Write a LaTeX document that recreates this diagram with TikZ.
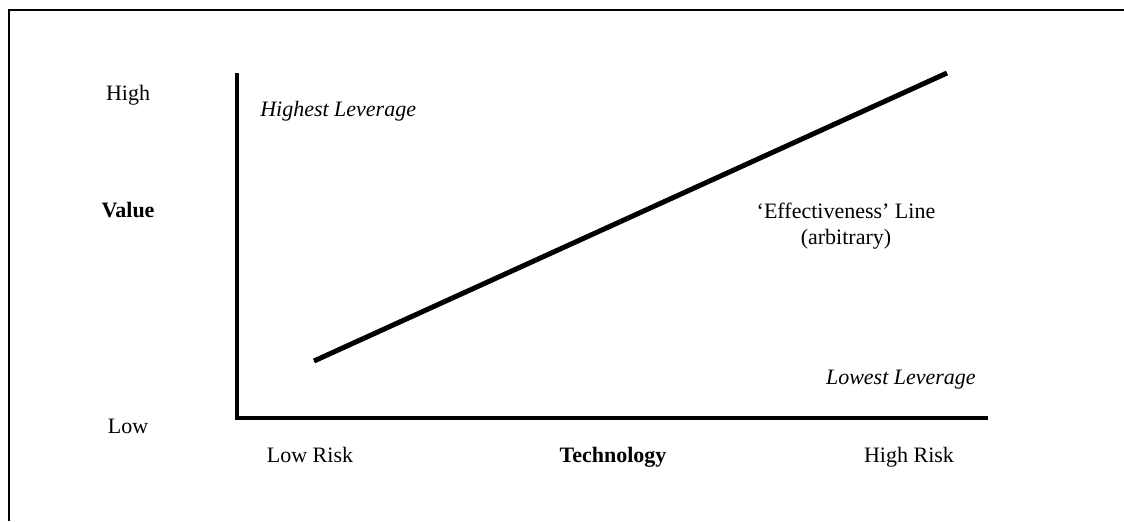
\documentclass[tikz,border=0pt]{standalone}
\usepackage{fontspec}
\setmainfont{Liberation Serif}
\usepackage{tikz}
\usetikzlibrary{calc}
\newcommand{\clraxis}{black}
\tikzset{
    lbl/.style={font=\fontsize{16.5}{19}\selectfont, inner sep=0pt},
    axisline/.style={line width=3pt, \clraxis},
}

\begin{document}
\begin{tikzpicture}[x=0.75pt, y=-0.75pt]

        \useasboundingbox (0,0) rectangle (1124,521);

        \draw[line width=1.5pt] (1124,10) -- (9,10) -- (9,521);

        \coordinate (top) at (237,73);
        \coordinate (org) at (237,418);
        \coordinate (right) at (988,418);
        \draw[axisline] (top) -- (org) -- (right);

        \coordinate (e0) at (314,361);
        \coordinate (e1) at (947,73);
        \draw[line width=3.75pt] (e0) -- (e1);

        \node[lbl, anchor=base] (vhigh) at (128,100) {High};
        \node[lbl, font=\fontsize{16.5}{19}\selectfont\bfseries] (vval) at (128,210) {Value};
        \node[lbl] (vlow) at (128,426) {Low};

        \foreach \n/\x/\t in {tlow/310/Low Risk, thigh/909/High Risk} {
            \node[lbl, anchor=base] (\n) at (\x,462) {\t};
        }
        \node[lbl, anchor=base, font=\fontsize{16.5}{19}\selectfont\bfseries] (ttech) at (613,462) {Technology};

        \node[lbl, anchor=west, font=\fontsize{16.5}{19}\selectfont\itshape] (hilev) at (260,111) {Highest Leverage};
        \node[lbl, anchor=east, font=\fontsize{16.5}{19}\selectfont\itshape] (lolev) at (976,380) {Lowest Leverage};

        \node[lbl] (eff) at (846,211) {`Effectiveness' Line};
        \node[lbl] (arb) at (846,239) {(arbitrary)};

    \end{tikzpicture}
\end{document}
